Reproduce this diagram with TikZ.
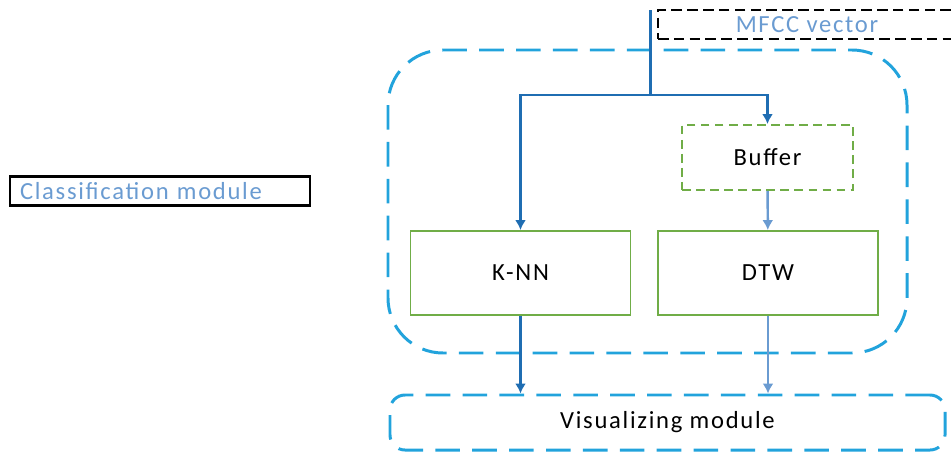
\documentclass[tikz,border=0pt]{standalone}
\usepackage{fontspec}
\setmainfont{Carlito}[LetterSpace=7]
\usepackage{tikz}
\usetikzlibrary{calc,arrows.meta,positioning}
\usepackage{xcolor}
\definecolor{darkarr}{HTML}{1F6DB2}
\definecolor{lightarr}{HTML}{6A9BD1}
\definecolor{frameblue}{HTML}{22A3DC}
\definecolor{boxgreen}{HTML}{70AD47}
\definecolor{labelblue}{HTML}{6A9BD1}
\tikzset{
  algo/.style={draw=boxgreen, line width=1.1pt, align=center, fill=white,
    minimum width=4.4cm, minimum height=1.68cm, font=\fontsize{14}{16}\selectfont},
  bufferbox/.style={algo, dashed, dash pattern=on 5pt off 3pt,
    minimum width=3.42cm, minimum height=1.3cm},
  tagbox/.style={draw=black, line width=1.4pt, font=\fontsize{14}{16}\selectfont,
    text=labelblue, minimum height=0.58cm, inner ysep=0pt},
  frame/.style={draw=frameblue, line width=1.7pt, dash pattern=on 14pt off 7pt},
  arr/.style={-{Latex[length=2mm,width=2.2mm]}, line width=1.7pt, draw=darkarr},
  larr/.style={-{Latex[length=2mm,width=2.2mm]}, line width=1.4pt, draw=lightarr}
}
\begin{document}
\begin{tikzpicture}[font=\fontsize{14}{16}\selectfont]
  \useasboundingbox (0,0) rectangle (19.02,-9.06);

  % left label box
  \node[tagbox, text width=5.6cm, inner xsep=0.2cm, align=left] (classif) at (3.2,-3.82)
    {Classification module};

  % input box, runs off the right edge
  \node[tagbox, dash pattern=on 6pt off 3pt, minimum width=5.96cm] (mfcc) at (16.14,-0.49)
    {MFCC vector};

  % classification module frame
  \draw[frame, rounded corners=1.1cm] (7.76,-1.0) rectangle (18.14,-7.06);

  % inner blocks
  \node[bufferbox] (buffer) at (15.35,-3.15) {Buffer};
  \node[algo] (knn) at (10.41,-5.46) {K-NN};
  \node[algo] (dtw) at (15.36,-5.46) {DTW};

  % output module
  \node[frame, rounded corners=0.3cm, minimum width=11.1cm, minimum height=1.1cm]
    (vis) at (13.35,-8.45) {Visualizing module};

  % feed from MFCC vector, split to both branches
  \coordinate (feed) at (13.0,-0.2);
  \coordinate (split) at (13.0,-1.9);
  \draw[line width=1.7pt, draw=darkarr] (feed) -- (split);
  \draw[arr] (split) -| (knn.north);
  \draw[arr] (split) -| (buffer.north);
  \draw[larr] (buffer) -- (dtw);

  % results to the visualizer
  \draw[arr] (knn.south) -- (knn.south |- vis.north);
  \draw[larr] (dtw.south) -- (dtw.south |- vis.north);

\end{tikzpicture}
\end{document}
